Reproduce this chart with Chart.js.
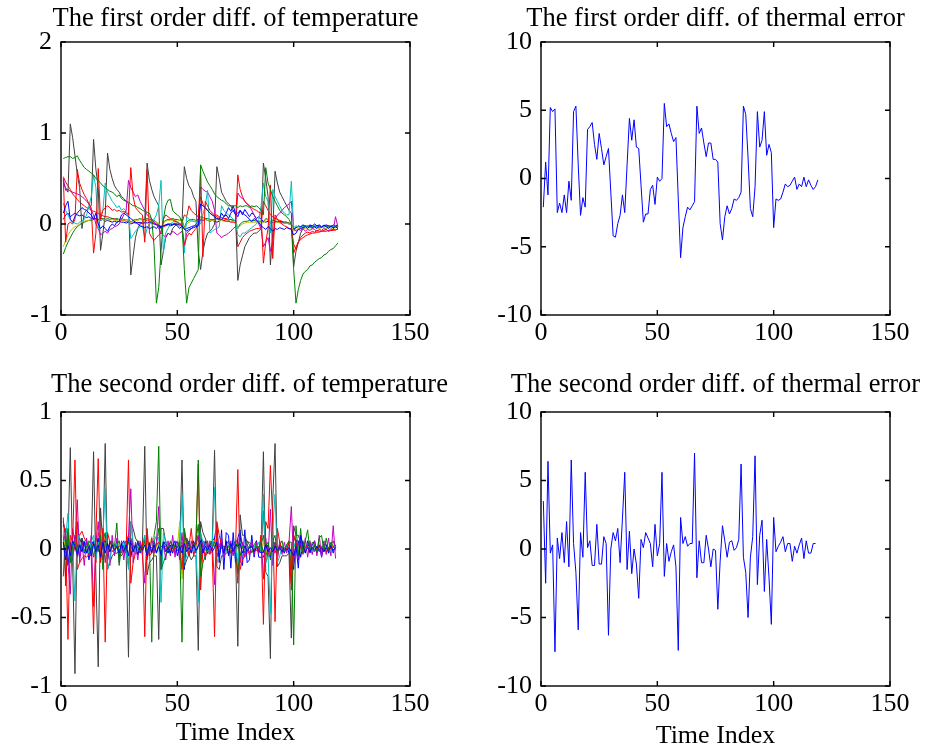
<!DOCTYPE html>
<html>
<head>
<meta charset="utf-8">
<title>First and second order differences</title>
<script src="https://cdn.jsdelivr.net/npm/chart.js@4.4.0/dist/chart.umd.min.js"></script>
<style>
  html, body { margin: 0; padding: 0; background: #fff; overflow: hidden; }
  #fig { position: relative; width: 932px; height: 749px; }
  canvas { position: absolute; }
</style>
</head>
<body>
<div id="fig">
  <canvas id="tempDiff1" width="466" height="372" style="left:0;top:0"></canvas>
  <canvas id="errDiff1" width="466" height="372" style="left:466px;top:0"></canvas>
  <canvas id="tempDiff2" width="466" height="377" style="left:0;top:372px"></canvas>
  <canvas id="errDiff2" width="466" height="377" style="left:466px;top:372px"></canvas>
</div>
<script>
// tick labels
const xTicks = [0, 50, 100, 150];
const tempTicks1 = [-1, 0, 1, 2];
const tempTicks2 = [-1, -0.5, 0, 0.5, 1];
const errTicks = [-10, -5, 0, 5, 10];

// first order diff. of temperature (10 sensors, time index 1..119)
const t1Blue = [0.12,0.2,0.25,0.05,0.02,0.08,0.12,0.15,0.18,0.16,
  0.15,0.12,0.1,0.05,0.12,0,-0.05,-0.02,-0.05,-0.08,
  -0.03,0,-0.02,0.02,0.03,0.1,0.12,0.1,0.08,0.06,
  0.04,0.02,0,-0.02,-0.03,-0.04,-0.03,-0.05,-0.04,-0.03,
  -0.05,-0.02,-0.03,-0.02,-0.01,0,-0.02,-0.01,0,-0.02,
  -0.05,-0.02,-0.05,-0.08,-0.06,-0.05,-0.04,-0.03,-0.02,0.22,
  0.2,0.18,0.15,0.12,0.1,0.08,0.06,0.05,0.12,0.08,
  0.1,0.06,0.12,0.15,0.1,0.12,0.15,0.12,0.1,0.08,
  0.05,0.03,0.06,0.04,0.02,-0.02,-0.04,-0.06,-0.03,-0.05,
  -0.08,-0.05,-0.06,-0.04,-0.05,-0.06,-0.04,-0.05,-0.06,-0.12,
  -0.1,-0.06,-0.05,-0.04,-0.03,-0.05,-0.02,-0.04,-0.03,-0.05,
  -0.02,-0.04,-0.01,-0.03,-0.05,-0.02,-0.04,-0.03,-0.05];
const t1Green = [0.72,0.73,0.74,0.74,0.72,0.73,0.75,0.7,0.66,0.62,
  0.6,0.58,0.56,0.54,0.5,0.48,0.45,0.42,0.4,0.38,
  0.36,0.35,0.33,0.3,0.32,0.28,0.26,0.25,0.24,0.22,
  0.2,0.2,0.18,0.17,0.15,0.14,0.13,0.12,0.05,-0.25,
  -0.87,-0.7,-0.3,0.05,0.2,0.26,0.27,0.15,0.12,0.1,
  0.08,0.02,-0.5,-0.87,-0.7,-0.65,-0.6,-0.55,-0.5,0.65,
  0.58,0.52,0.46,0.42,0.38,0.33,0.3,0.28,0.26,0.25,
  0.22,0.2,0.2,0.2,0.2,0.18,0.2,0.19,0.2,0.2,
  0.18,0.2,0.19,0.2,0.18,0.15,0.1,0.62,0.45,0.38,
  0.3,0.25,0.2,0.15,0.12,0.1,0.08,0.05,0,-0.5,
  -0.87,-0.72,-0.62,-0.55,-0.52,-0.5,-0.46,-0.45,-0.42,-0.4,
  -0.38,-0.37,-0.34,-0.33,-0.3,-0.28,-0.27,-0.24,-0.21];
const t1Red = [0.5,-0.2,0,0.02,0,0.05,0.6,0.45,0.38,0.32,
  0.28,0.22,0.18,-0.32,-0.1,0.61,0.05,0.15,0.18,0.2,
  0.18,0.15,0.16,0.14,0.15,0.13,0.14,0.12,0.1,0.62,
  0.3,0.18,0.15,0.12,0.1,-0.2,0.6,-0.1,-0.15,-0.18,
  -0.15,-0.12,-0.1,0.05,0.1,0.08,0.06,0.05,0.03,0.02,
  0,-0.02,-0.23,-0.15,-0.1,-0.12,-0.08,-0.05,0,0.61,
  -0.36,0.25,0.2,0.15,0.12,0.1,0.08,0.06,0.05,0.04,
  0.03,0.03,0.02,0.02,0.01,0.54,0.38,0.3,0.25,0.22,
  0.2,0.18,0.16,0.15,0.13,0.12,-0.43,-0.2,-0.05,0.43,
  -0.38,0.1,0.05,0.02,0,-0.02,-0.03,-0.05,-0.05,-0.22,
  -0.28,-0.2,-0.15,-0.12,-0.1,-0.09,-0.1,-0.08,-0.09,-0.07,
  -0.08,-0.08,-0.07,-0.06,-0.08,-0.07,-0.06,-0.07,-0.05];
const t1Cyan = [0.23,0.15,0.1,0.05,0.02,0.01,0,0.02,0.03,0.05,
  0.1,0.2,0.3,0.54,0.4,-0.05,0.1,0.15,0.45,0.35,
  0.3,0.25,0.22,0.18,0.2,0.15,0.17,0.14,0.1,-0.16,
  -0.12,-0.08,-0.05,-0.03,-0.02,-0.15,-0.05,0,0.02,0.05,
  0.1,0.2,0.48,-0.32,-0.1,-0.05,0,0.02,0.03,0.02,
  0.01,0,-0.32,0.08,0.05,0.04,0.03,0.02,0.02,0,
  0.1,0.2,0.37,-0.1,-0.08,-0.06,-0.05,-0.03,0.2,0.15,
  0.12,0.1,0.08,0.05,0.03,-0.12,-0.14,-0.1,-0.1,-0.08,
  -0.06,-0.04,-0.02,0,0.05,0.2,0.45,0.3,0.25,-0.1,
  0.38,0.3,0.25,0.2,0.15,0.12,0.1,0.1,0.47,-0.04,
  -0.02,-0.03,-0.04,-0.03,-0.02,-0.03,-0.04,-0.03,-0.02,-0.03,
  -0.04,-0.03,-0.02,-0.03,-0.04,-0.03,-0.02,-0.03,-0.04];
const t1Magenta = [0.5,0.37,0.38,0.36,0.35,0.34,0.33,0.32,0.3,0.28,
  0.25,0.22,0.15,0.1,0,-0.05,-0.12,-0.1,-0.08,-0.1,
  -0.06,-0.05,-0.03,-0.02,0,0.05,0.1,0.15,0.48,0.4,
  0.35,0.3,0.32,0.25,0.2,0.15,0.1,0.08,0.05,0.02,
  0,-0.05,-0.1,-0.12,-0.15,-0.1,-0.12,-0.08,-0.1,-0.12,
  -0.1,-0.08,-0.25,-0.1,-0.08,-0.05,-0.03,0,0.05,0.41,
  0.38,0.36,0.35,0.3,0.25,0.15,-0.1,-0.12,-0.15,-0.13,
  -0.12,-0.1,-0.08,-0.05,-0.03,0.34,0.3,0.28,0.25,0.22,
  0.2,0.15,0.1,0.05,0,-0.05,-0.25,-0.2,-0.15,-0.3,
  -0.2,0.05,0.1,0.12,0.15,0.18,0.2,0.22,0.25,-0.05,
  -0.08,-0.06,-0.07,-0.05,-0.08,-0.06,-0.07,-0.05,-0.06,-0.08,
  -0.06,-0.07,-0.05,-0.06,-0.08,-0.05,-0.07,0.08,-0.03];
const t1Yellow = [-0.25,-0.18,-0.12,-0.08,-0.05,-0.03,-0.02,0,0.02,0.03,
  0.04,0.04,0.05,0.05,0.05,0.04,0.05,0.05,0.04,0.05,
  0.04,0.05,0.04,0.04,0.05,0.04,0.04,0.05,0.04,0.02,
  0.03,0.04,0.04,0.05,0.04,0.04,0.05,0.04,0.04,0.03,
  0.02,0.01,-0.03,0.01,0.03,0.04,0.04,0.04,0.04,0.03,
  0.04,0.03,-0.05,0,0.02,0.03,0.03,0.03,0.03,0.06,
  0.05,0.05,0.04,0.04,0.04,0.04,0.05,0.04,0.04,0.03,
  0.03,0.03,0.03,0.03,0.03,-0.05,-0.02,0,0.01,0.02,
  0.02,0.02,0.02,0.02,0.02,0.02,0.01,0.05,0.04,0.01,
  0.03,0.02,0.02,0.01,0.01,0.01,0.01,0,0,-0.08,
  -0.06,-0.05,-0.05,-0.04,-0.05,-0.04,-0.04,-0.05,-0.04,-0.04,
  -0.05,-0.04,-0.04,-0.05,-0.04,-0.04,-0.05,-0.04,-0.04];
const t1Gray = [0.45,0.4,0.35,1.1,0.95,0.75,0.55,0.4,-0.05,0.12,
  0.15,0.18,0.2,0.93,0.6,0.4,-0.29,-0.1,0.1,0.78,
  0.6,0.5,0.42,0.38,0.35,0.3,0.28,0.25,0.22,-0.56,
  -0.35,-0.15,-0.05,0,0.02,0.05,0.67,0.48,0.38,0.3,
  0.25,0.2,-0.45,-0.3,-0.15,-0.1,-0.12,-0.05,-0.02,0,
  -0.02,0,0.63,0.5,0.42,0.38,0.3,0.25,-0.3,-0.5,
  -0.3,-0.18,-0.1,-0.08,-0.05,0,0.63,0.5,0.35,0.3,
  0.25,0.22,0.2,0.15,0.12,-0.62,-0.45,-0.35,-0.25,-0.2,
  -0.15,-0.12,-0.1,-0.1,-0.08,-0.05,0.67,0.5,0.3,-0.45,
  -0.1,0.58,0.45,0.35,0.3,0.25,0.2,0.15,0.12,-0.47,
  -0.3,-0.2,-0.1,-0.05,-0.03,-0.02,-0.04,-0.03,-0.02,-0.03,
  -0.04,-0.03,-0.02,-0.03,-0.02,-0.03,-0.04,-0.03,-0.02];
const t1Blue2 = [0.05,0.1,0.12,0.08,0.1,0.12,0.1,0.09,0.1,0.08,
  0.07,0.08,0.06,0.05,0.06,0.05,0.04,0.05,0.03,0.04,
  0.03,0.02,0.03,0.02,0.03,0.02,0.02,0.01,0.02,0,
  0.01,0.02,0.01,0.02,0.01,0.02,0.01,0.02,0.01,0,
  -0.01,-0.02,-0.04,-0.02,-0.01,0,0,-0.01,0,-0.01,
  0,-0.01,-0.06,-0.05,-0.04,-0.03,-0.02,-0.02,-0.01,0.05,
  0.04,0.05,0.04,0.03,0.04,0.03,0.02,0.03,0.05,0.08,
  0.12,0.18,0.14,0.2,0.12,0.08,0.15,0.1,0.16,0.12,
  0.08,0.12,0.1,0.06,0.08,0.05,0.03,0.02,0.03,0.01,
  0.02,0.03,0.02,0.03,0.02,0.01,0.01,0,0,-0.06,
  -0.04,-0.02,-0.03,-0.01,-0.02,-0.03,-0.01,-0.02,0,-0.02,
  -0.01,-0.03,-0.02,-0.01,-0.02,-0.03,-0.01,-0.02,-0.01];
const t1Green2 = [-0.33,-0.26,-0.2,-0.15,-0.1,-0.06,-0.03,-0.01,0.01,0.02,
  0.03,0.04,0.04,0.05,0.06,0.05,0.06,0.06,0.05,0.06,
  0.05,0.06,0.05,0.06,0.05,0.06,0.05,0.05,0.04,0.02,
  0.04,0.05,0.05,0.06,0.05,0.05,0.06,0.05,0.05,0.04,
  0.02,0,-0.05,0.02,0.04,0.05,0.05,0.06,0.05,0.05,
  0.04,0.05,-0.04,0.02,0.04,0.05,0.05,0.04,0.05,0.08,
  0.07,0.06,0.06,0.05,0.05,0.05,0.06,0.05,0.05,0.04,
  0.05,0.04,0.05,0.04,0.04,-0.05,0,0.02,0.03,0.03,
  0.04,0.03,0.04,0.03,0.03,0.03,0.02,0.06,0.05,0.02,
  0.04,0.03,0.03,0.02,0.02,0.02,0.02,0.01,0,-0.06,
  -0.04,-0.03,-0.03,-0.02,-0.02,-0.03,-0.02,-0.02,-0.03,-0.02,
  -0.02,-0.03,-0.02,-0.02,-0.03,-0.02,-0.02,-0.03,-0.02];
const t1Red2 = [0.52,0.46,0.42,0.38,0.33,0.3,0.27,0.24,0.22,0.2,
  0.18,0.17,0.15,0.14,0.13,0.12,0.1,0.09,0.08,0.08,
  0.07,0.06,0.06,0.05,0.05,0.04,0.04,0.03,0.03,0.03,
  0.02,0.01,0.02,0.01,0,0.01,0.05,0.03,0.02,0.01,
  0,-0.01,-0.05,-0.03,-0.02,-0.01,0,0,0.01,0,
  0,0.01,0.1,0.08,0.2,0.15,0.12,0.1,0.08,0.3,
  0.22,0.18,0.15,0.12,0.1,0.09,0.1,0.08,0.07,0.06,
  0.06,0.05,0.05,0.04,0.04,-0.25,-0.2,-0.15,-0.12,-0.1,
  -0.08,-0.07,-0.06,-0.05,-0.05,-0.04,0.25,0.2,0.15,0.1,
  0.08,0.06,0.05,0.04,0.03,0.02,0.02,0.01,0,-0.32,
  -0.25,-0.2,-0.17,-0.15,-0.13,-0.12,-0.11,-0.1,-0.1,-0.09,
  -0.09,-0.08,-0.08,-0.08,-0.07,-0.07,-0.07,-0.06,-0.06];

// second order diff. of temperature (time index 1..118)
const t2Blue = [0.05,-0.08,0.03,-0.05,0.06,0.02,-0.04,0.03,-0.02,0.05,
  -0.03,0.02,-0.05,0.04,-0.02,0.03,-0.06,0.05,-0.03,0.04,
  -0.02,0.03,-0.01,0.02,-0.03,0.04,-0.02,0.03,-0.05,0.06,
  -0.02,0.03,-0.04,0.02,-0.01,0.03,-0.05,0.04,-0.02,0.03,
  -0.03,0.02,-0.04,0.05,-0.02,0.01,-0.03,0.02,0.06,-0.05,
  0.02,-0.03,0.04,-0.02,0.01,-0.02,0.03,-0.01,0.02,0.06,
  -0.03,0.02,-0.01,0.03,-0.02,0.01,0.05,-0.06,0.04,-0.03,
  0.06,-0.05,0.04,-0.02,0.03,0.02,0.04,-0.03,0.02,-0.02,
  0.01,0.02,-0.02,0.01,-0.01,-0.03,-0.02,0.03,-0.02,0.01,
  -0.02,0.02,-0.01,0.01,-0.02,0.01,-0.01,0.01,-0.02,-0.05,
  0.02,-0.14,0.1,0.02,-0.02,0.01,-0.02,0.01,-0.01,0.02,
  -0.01,0.01,-0.02,0.01,-0.01,0.02,-0.01,0.01];
const t2Green = [0.05,-0.03,0.15,-0.1,0.02,0.05,-0.02,0.03,0.01,-0.02,
  0.02,0.03,-0.01,0.04,0.02,-0.02,0.1,-0.15,0.05,0.02,
  -0.02,0.03,0.02,0.19,-0.12,0.02,0.01,-0.01,0.05,0.02,
  -0.02,0.03,0.01,-0.02,0.02,0.05,-0.02,0.05,-0.68,0.1,
  0.2,0.75,-0.15,-0.1,-0.05,0.02,-0.03,0.01,0.02,0.01,
  0.05,-0.68,0.15,0.05,0.02,0.01,0.02,0.05,0.65,-0.2,
  -0.1,-0.05,0.02,-0.01,0.01,0.05,0.02,-0.02,0.01,0.02,
  -0.01,0.02,0.01,-0.01,0.02,0.05,-0.05,0.02,0.01,-0.01,
  0.02,0.01,-0.01,0.02,0.01,0.05,-0.03,0.02,0.05,-0.05,
  0.02,0.05,-0.02,0.01,0.02,-0.01,0.03,0.05,0.05,-0.7,
  0.17,-0.05,0.15,-0.03,0.06,0.14,-0.02,0.05,0.03,-0.02,
  0.08,0.1,-0.02,0.08,-0.01,0.05,0.02,0.03];
const t2Red = [0.2,0.1,-0.66,0.1,0.05,0.65,-0.15,-0.1,-0.07,-0.05,
  -0.06,-0.04,-0.05,-0.62,0.1,0.66,-0.1,0.15,-0.68,0.12,
  0.05,0.02,0.03,0.01,0.02,0.02,0.01,0,0.65,-0.25,
  -0.1,-0.03,-0.03,-0.02,0.05,-0.64,0.15,-0.05,-0.03,0.02,
  0.03,0.05,0.02,0.01,0.02,0,0.01,-0.02,0.01,-0.01,
  0,-0.15,0.1,0.05,-0.05,0.02,0.01,0.05,0.62,-0.3,
  0,-0.05,-0.03,-0.03,-0.02,-0.64,0.2,0.1,0.03,0.02,
  0.01,0,-0.02,0.01,0,0.58,-0.15,-0.08,-0.05,-0.03,
  -0.02,-0.02,-0.01,-0.01,-0.02,0.1,-0.55,0.2,0.15,0.61,
  0.2,-0.53,0.15,0.05,0,-0.02,0,0.05,-0.25,0.1,
  0.05,-0.05,0.02,-0.03,0.01,0.02,-0.01,0.01,-0.02,0.01,
  0.02,-0.01,0.01,-0.02,0.01,0,0.02,-0.01];
const t2Cyan = [0.05,0.08,0.26,-0.1,0.05,-0.38,0.12,0.05,-0.02,0.03,
  0.02,-0.03,0.05,0.1,-0.08,0.05,-0.05,0.1,0.44,-0.15,
  -0.08,0.03,-0.02,0.04,-0.03,0.02,0.05,-0.02,-0.15,0.2,
  0.05,-0.03,0.02,0.01,-0.02,0.1,-0.05,0.02,0.03,0.05,
  0.1,0.08,-0.39,0.12,0.05,0.02,-0.02,0.01,0.02,0.03,
  -0.02,0.4,-0.1,-0.05,0.02,0.01,-0.02,0.02,-0.39,0.12,
  0.05,0.03,-0.02,0.01,0.02,0.45,-0.1,-0.05,0.02,0.01,
  -0.02,0.03,0.01,-0.01,0.02,-0.1,0.05,0.02,-0.01,0.02,
  0.01,-0.01,0.02,0.01,0.05,-0.02,0.4,-0.1,-0.05,-0.47,
  0.15,0.4,-0.1,-0.05,0.02,-0.01,0.02,0.01,-0.05,0.05,
  -0.01,0.02,-0.02,0.01,-0.01,0.02,0.01,-0.02,0.01,0.02,
  -0.01,0.01,0.02,-0.01,0.01,-0.02,0.01,0.02];
const t2Magenta = [0.05,0.12,-0.1,-0.33,0.15,0.05,0.36,-0.1,0.05,-0.12,
  0.08,-0.05,0.1,-0.42,0.05,0.2,-0.08,0.12,-0.1,0.05,
  -0.12,0.1,-0.05,0.08,-0.1,0.06,-0.08,0.05,0.1,0.44,
  -0.1,0.05,-0.08,0.06,-0.05,-0.25,0.1,-0.05,0.08,-0.03,
  0.05,0.31,-0.15,0.05,-0.08,0.06,-0.05,0.1,-0.06,0.05,
  -0.08,0.12,-0.1,0.08,-0.05,0.06,-0.04,0.05,0.1,-0.06,
  0.05,-0.08,0.06,-0.04,0.05,-0.26,0.15,-0.05,0.08,-0.06,
  0.05,-0.04,0.06,-0.05,0.04,0.08,-0.1,0.05,-0.06,0.04,
  -0.05,0.06,-0.04,0.05,-0.03,0.1,-0.22,0.08,-0.06,0.29,
  -0.12,0.05,-0.08,0.06,-0.04,0.05,-0.03,0.05,0.31,-0.1,
  0.05,-0.08,0.06,-0.04,0.08,-0.06,0.05,-0.04,0.06,-0.05,
  0.1,-0.06,0.05,-0.04,0.08,-0.05,0.17,-0.07];
const t2Yellow = [0.16,-0.05,0.03,-0.02,0.02,0.05,-0.03,0.02,0.01,-0.02,
  0.03,-0.01,0.02,0.01,-0.02,0.03,-0.01,0.02,0.05,-0.03,
  0.01,0.02,-0.01,0.01,0.02,-0.01,0.01,0.02,-0.05,0.04,
  0.01,-0.01,0.02,0.01,-0.01,0.05,-0.03,0.01,0.09,-0.05,
  0.02,0.04,-0.03,0.01,0.02,-0.01,0.01,0.02,-0.01,0.01,
  0.2,-0.22,0.06,0.02,0.01,-0.01,0.02,0.01,0.05,-0.03,
  0.02,0.01,-0.01,0.02,0.01,0.05,-0.03,0.01,0.02,-0.01,
  0.01,0.02,-0.01,0.01,0.02,-0.05,0.03,0.01,-0.01,0.02,
  0.01,-0.01,0.01,0.02,-0.01,0.01,0.05,-0.03,0.01,-0.05,
  0.03,0.04,-0.02,0.01,0.02,-0.01,0.01,0.02,-0.05,0.03,
  0.01,-0.01,0.01,0.02,-0.01,0.01,0.02,-0.01,0.01,0,
  0.01,-0.01,0.02,0.01,-0.01,0.01,0.02,0];
const t2Gray = [0.1,-0.2,0.05,0.74,-0.1,-0.91,0.2,0.05,0.08,0.02,
  0.03,-0.05,0,0.71,-0.2,-0.86,0.3,0,0.77,-0.15,
  -0.1,-0.05,-0.03,-0.03,-0.02,-0.05,-0.02,-0.03,-0.79,0.2,
  0.15,0.08,0.05,0.02,0.03,0.75,-0.19,-0.1,-0.08,-0.05,
  -0.05,-0.66,0.15,0.15,0.05,0.02,0.05,0.02,0.03,0.02,
  0.02,0.65,-0.13,-0.08,-0.04,-0.08,-0.05,-0.05,-0.74,0.2,
  0.12,0.08,0.02,0.03,0.05,0.72,-0.13,-0.15,-0.05,-0.05,
  -0.03,-0.02,-0.03,-0.03,-0.03,-0.71,0.25,0.1,0.1,0.05,
  0.05,0.03,0.02,0.01,0.02,0.03,0.71,-0.17,-0.2,-0.8,
  0.35,0.77,-0.13,-0.1,-0.05,-0.05,-0.05,-0.03,-0.65,0.17,
  0.1,0.1,0.05,0.05,0.02,0.01,0.02,-0.01,0.02,0.01,
  -0.02,0.01,0.02,-0.01,0.01,0.02,-0.01,0.01];
const t2Blue2 = [0.2,0.08,-0.12,0.05,-0.08,0.1,0.03,-0.06,0.08,-0.03,
  0.06,-0.08,0.03,0.06,-0.03,0.08,-0.06,0.03,0.06,-0.08,
  0.06,0.03,-0.03,0.06,-0.06,0.03,0.06,-0.03,0.08,-0.06,
  0.03,-0.03,0.06,-0.03,0.03,0.06,-0.06,0.03,-0.03,0.06,
  -0.03,0.03,-0.06,0.03,0.06,-0.03,0.03,-0.03,0.03,0.06,
  -0.03,0.03,-0.15,0.08,0.03,-0.03,0.06,-0.03,0.03,0.12,
  -0.03,0.06,-0.03,0.03,0.06,0.08,0.18,-0.1,0.14,-0.15,
  0.12,0.1,-0.14,0.12,-0.1,0.08,0.14,-0.12,0.14,-0.1,
  -0.08,0.1,-0.06,0.06,-0.06,-0.06,-0.06,0,0.03,-0.06,
  0.03,0.03,-0.03,0.03,0,-0.03,0.03,-0.03,0,-0.15,
  0.06,0.06,-0.06,0.03,-0.03,0.06,-0.03,0.03,0.06,-0.03,
  0.03,-0.06,0.03,0.03,-0.03,0.03,-0.03,0.03];
const t2Green2 = [-0.2,0.15,0.1,-0.08,0.06,0.03,-0.06,0.08,0.03,0.06,
  -0.03,0.06,0.03,-0.06,0.08,0.03,-0.03,0.06,0.12,-0.08,
  0.03,0.06,-0.03,0.03,0.06,-0.03,0.03,0.06,-0.12,0.08,
  0.03,-0.03,0.06,0.03,-0.03,0.08,-0.06,0.03,0.06,-0.03,
  0.03,0.15,-0.12,0.06,0.03,-0.03,0.06,0.03,-0.03,0.03,
  0.06,-0.18,0.12,0.03,0.06,-0.03,0.03,0.06,0.18,-0.12,
  0.06,0.03,-0.03,0.06,0.03,0.03,-0.06,0.03,0.06,-0.03,
  0.03,0.06,-0.03,0.03,0.06,-0.18,0.12,0.03,-0.03,0.06,
  0.03,-0.03,0.03,0.06,-0.03,0.03,0.1,-0.06,0.03,-0.08,
  0.06,0.1,-0.06,0.03,0.06,-0.03,0.03,0.06,-0.15,0.1,
  0.06,-0.03,0.03,0.06,-0.03,0.03,0.06,-0.03,0.03,0,
  0.03,-0.03,0.06,0.03,-0.03,0.03,0.06,0];
const t2Red2 = [0.23,-0.27,0.1,0,-0.05,0.02,0.12,0.1,0.13,0.08,
  0.05,0.03,0.02,0.05,-0.1,0.12,0.05,-0.08,0.1,0.03,
  0.02,-0.02,0.01,0.02,-0.01,0.02,0.01,-0.02,0.1,-0.05,
  0.02,0.01,-0.01,0.02,0.01,0.1,-0.08,0.02,0.01,-0.01,
  0.02,0.05,-0.03,0.01,0,0.02,-0.01,0.01,0,-0.01,
  0.02,0.05,-0.08,0.03,0.02,0.15,-0.05,0.02,0.1,-0.12,
  0.02,-0.01,0.01,0.02,-0.01,0.08,-0.05,0.02,0.01,-0.01,
  0.01,0.02,-0.01,0.01,0,-0.25,0.08,0.03,0.02,0.01,
  0.01,0.02,0.01,-0.01,0.01,-0.02,0.28,-0.1,-0.03,-0.05,
  0.08,-0.03,0.02,-0.01,0.01,-0.02,0.01,0.02,-0.3,0.08,
  0.05,0.03,0.02,-0.02,0.01,0.02,-0.01,0.01,0.02,-0.01,
  0.01,0.02,-0.01,0.01,0,0.02,-0.01,0.01];

// first and second order diff. of thermal error
const errDiff1 = [-2.1,1.2,-1.2,5.2,4.9,5.1,-2.5,-1.8,-2.5,-1.2,
  -2.5,-0.2,-1.6,4.9,5.3,1.0,-2.7,-1.4,-2.1,3.6,
  3.8,4.1,2.5,1.4,3.3,2.2,1.0,1.6,2.2,-1.0,
  -4.2,-4.3,-3.3,-2.7,-1.2,-2.5,1.0,4.4,2.8,4.3,
  2.3,2.2,-0.5,-3.2,-2.6,-2.6,-0.8,-0.5,-1.9,0.1,
  -0.2,0.0,5.5,3.8,4.0,3.3,2.7,3.0,-1.5,-5.8,
  -3.6,-2.8,-2.1,-2.3,-2.0,-1.7,5.3,3.3,3.7,2.6,
  1.6,2.6,2.6,1.4,1.4,1.2,-3.3,-4.5,-2.8,-2.0,
  -2.6,-2.2,-1.5,-1.6,-1.4,-1.0,5.3,4.7,1.5,-2.2,
  -2.8,-0.6,4.9,2.3,2.8,4.9,1.7,2.5,1.9,-3.6,
  -1.5,-1.6,-1.5,-1.0,-0.4,-0.6,-0.5,-0.2,0.1,-0.8,
  -0.4,-0.6,0.1,-0.6,-0.1,-0.5,-0.8,-0.6,-0.1];
const errDiff2 = [3.5,-2.5,6.4,-0.3,0.3,-7.5,0.8,-0.7,1.2,-1.0,
  2.0,-1.3,6.5,0.4,-1.7,-5.9,1.2,-0.6,5.6,0.1,
  0.6,-1.2,-1.2,1.8,-1.1,-1.1,0.9,0.4,-6.3,0.0,
  1.2,0.6,1.5,-1.0,2.2,5.6,-1.5,1.3,-1.8,0.0,
  -1.1,-3.6,0.7,0.1,1.2,0.8,0.4,-1.3,1.8,-0.5,
  0.4,5.6,-2.0,0.4,-0.9,-0.2,0.3,-1.3,-7.4,2.3,
  0.4,0.9,0.2,0.4,0.4,7.0,-2.1,0.6,-1.0,-1.0,
  1.0,0.0,-1.3,0.0,-0.1,-4.4,-0.9,1.7,0.6,-0.6,
  0.5,0.6,-0.1,0.1,0.7,6.2,-0.6,-1.7,-5.0,-0.6,
  0.9,6.8,-2.6,1.0,2.1,-3.1,0.7,-2.1,-5.5,2.3,
  -0.2,0.2,0.5,0.9,-0.2,0.4,0.4,-0.9,0.2,-0.3,
  0.3,0.8,-0.7,0.6,-0.3,-0.3,0.4,0.4];

// MATLAB default colour order: b, g, r, c, m, y, k
const lineColors = ['#0000FF', '#008000', '#FF0000', '#00BFBF', '#BF00BF', '#BFBF00', '#404040', '#0000FF', '#008000', '#FF0000'];
const FONT = '"Liberation Serif", "Times New Roman", serif';

// time index starts at 1
const toPoints = vals => vals.map((v, i) => ({ x: i + 1, y: v }));

function lineSets(list) {
    return list.map((vals, k) => ({
        data: toPoints(vals),
        borderColor: lineColors[k % lineColors.length],
        borderWidth: 1,
        pointRadius: 0,
        tension: 0,
        fill: false
    }));
}

// box round the axes with inward ticks on all four sides, plus the panel title
const matlabAxes = {
    id: 'matlabAxes',
    afterDraw(chart, args, opts) {
        const { ctx, chartArea: a, scales: { x, y } } = chart;
        ctx.save();
        ctx.strokeStyle = '#000';
        ctx.lineWidth = 1.4;
        ctx.strokeRect(a.left, a.top, a.right - a.left, a.bottom - a.top);
        ctx.beginPath();
        x.ticks.forEach(t => {
            const px = x.getPixelForValue(t.value);
            ctx.moveTo(px, a.bottom); ctx.lineTo(px, a.bottom - 5);
            ctx.moveTo(px, a.top); ctx.lineTo(px, a.top + 5);
        });
        y.ticks.forEach(t => {
            const py = y.getPixelForValue(t.value);
            ctx.moveTo(a.left, py); ctx.lineTo(a.left + 5, py);
            ctx.moveTo(a.right, py); ctx.lineTo(a.right - 5, py);
        });
        ctx.stroke();
        ctx.fillStyle = '#000';
        ctx.font = '26.5px ' + FONT;
        ctx.textAlign = 'center';
        ctx.textBaseline = 'alphabetic';
        ctx.fillText(opts.text, (a.left + a.right) / 2 + (opts.dx || 0), opts.y);
        ctx.restore();
    }
};

function panel(id, datasets, cfg) {
    return new Chart(document.getElementById(id), {
        type: 'line',
        data: { datasets: datasets },
        plugins: [matlabAxes],
        options: {
            responsive: false,
            animation: false,
            layout: { padding: { left: 0, right: cfg.padRight, top: cfg.top, bottom: 0 } },
            plugins: {
                legend: { display: false },
                tooltip: { enabled: false },
                matlabAxes: { text: cfg.title, y: cfg.titleY, dx: cfg.titleDx }
            },
            scales: {
                x: {
                    type: 'linear',
                    min: 0,
                    max: 150,
                    afterBuildTicks: s => { s.ticks = xTicks.map(v => ({ value: v })); },
                    afterFit: s => { s.height = cfg.xHeight; },
                    grid: { display: false, drawTicks: false },
                    border: { display: false },
                    ticks: { color: '#000', padding: 3, maxRotation: 0, font: { family: FONT, size: 26 },
                             callback: v => String(v) },
                    title: {
                        display: !!cfg.xTitle,
                        text: cfg.xTitle || '',
                        color: '#000',
                        padding: { top: 0, bottom: cfg.xTitlePad || 0 },
                        font: { family: FONT, size: 26, lineHeight: 1 }
                    }
                },
                y: {
                    type: 'linear',
                    min: cfg.yTicks[0],
                    max: cfg.yTicks[cfg.yTicks.length - 1],
                    afterBuildTicks: s => { s.ticks = cfg.yTicks.map(v => ({ value: v })); },
                    afterFit: s => { s.width = cfg.yWidth; },
                    grid: { display: false, drawTicks: false },
                    border: { display: false },
                    ticks: { color: '#000', padding: 9, font: { family: FONT, size: 26 },
                             callback: v => String(v) }
                }
            }
        }
    });
}

panel('tempDiff1',
    lineSets([t1Blue, t1Green, t1Red, t1Cyan, t1Magenta, t1Yellow, t1Gray, t1Blue2, t1Green2, t1Red2]),
    { title: 'The first order diff. of temperature', titleY: 26, yTicks: tempTicks1,
      yWidth: 61, padRight: 56, top: 42, xHeight: 57 });

panel('errDiff1',
    lineSets([errDiff1]),
    { title: 'The first order diff. of thermal error', titleY: 26, yTicks: errTicks,
      yWidth: 75, padRight: 42, top: 42, xHeight: 57 });

panel('tempDiff2',
    lineSets([t2Blue, t2Green, t2Red, t2Cyan, t2Magenta, t2Yellow, t2Gray, t2Blue2, t2Green2, t2Red2]),
    { title: 'The second order diff. of temperature', titleY: 20, titleDx: 14, yTicks: tempTicks2,
      yWidth: 61, padRight: 56, top: 40, xHeight: 63, xTitle: 'Time Index', xTitlePad: 3 });

panel('errDiff2',
    lineSets([errDiff2]),
    { title: 'The second order diff. of thermal error', titleY: 20, yTicks: errTicks,
      yWidth: 75, padRight: 42, top: 40, xHeight: 63, xTitle: 'Time Index', xTitlePad: 0 });
</script>
</body>
</html>
